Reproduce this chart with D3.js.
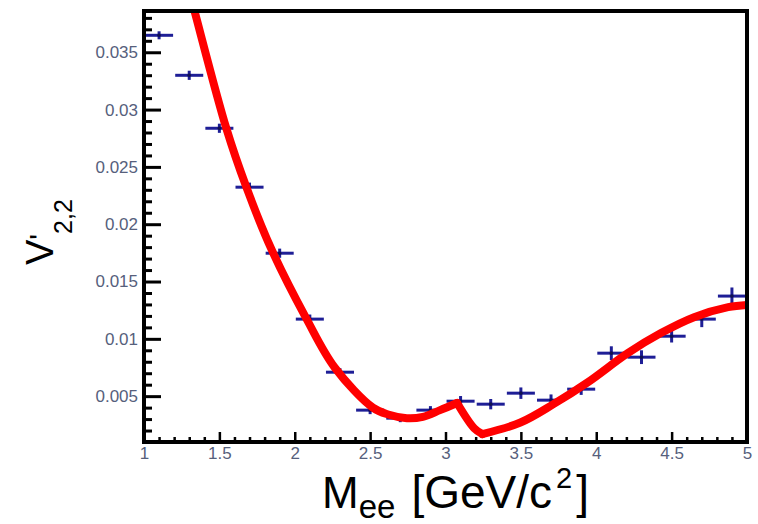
<!DOCTYPE html>
<html>
<head>
<meta charset="utf-8">
<script src="https://cdn.jsdelivr.net/npm/d3@7"></script>
<style>
  html, body { margin: 0; padding: 0; background: #ffffff; }
  svg { display: block; font-family: "Liberation Sans", Arial, Helvetica, sans-serif; }
</style>
</head>
<body>
<svg id="chart" width="758" height="524"></svg>
<script>
// ---- data ----
const binCenters = [1.1, 1.3, 1.5, 1.7, 1.9, 2.1, 2.3, 2.5, 2.7, 2.9, 3.1, 3.3, 3.5, 3.7, 3.9, 4.1, 4.3, 4.5, 4.7, 4.9];
const binHalfWidth = 0.1;
const v22Values = [0.03648, 0.03299, 0.02837, 0.02323, 0.01747, 0.01172, 0.00709, 0.00378, 0.00308, 0.00378,
                   0.00456, 0.00430, 0.00526, 0.00465, 0.00561, 0.00875, 0.00840, 0.01023, 0.01172, 0.01373];
const v22Errors = [0.00035, 0.0004, 0.0004, 0.0004, 0.0004, 0.0004, 0.00035, 0.00035, 0.00035, 0.00035,
                   0.00045, 0.00045, 0.0005, 0.0005, 0.0005, 0.0006, 0.0006, 0.00055, 0.0007, 0.00075];

// fit curve in three pieces: falling branch up to the J/psi kink,
// the steep drop after the kink, and the rising branch
const fitMassLow = [1.30, 1.333, 1.546, 1.679, 1.846, 2.079, 2.265, 2.518, 2.62, 2.744, 2.85, 2.964, 3.077];
const fitV22Low  = [0.0403, 0.0387, 0.02837, 0.02323, 0.0178, 0.01172, 0.0075, 0.0040, 0.0034, 0.00308, 0.0032, 0.00378, 0.00440];
const fitMassDrop = [3.077, 3.19, 3.244];
const fitV22Drop  = [0.00440, 0.0022, 0.00169];
const fitMassHigh = [3.244, 3.497, 3.716, 3.943, 4.209, 4.429, 4.649, 4.875, 5.0];
const fitV22High  = [0.00169, 0.0027, 0.0043, 0.0062, 0.00875, 0.0105, 0.01189, 0.01276, 0.01295];

const xTicks = [1, 1.5, 2, 2.5, 3, 3.5, 4, 4.5, 5];
const xTickLabels = ["1", "1.5", "2", "2.5", "3", "3.5", "4", "4.5", "5"];
const yTicks = [0.005, 0.01, 0.015, 0.02, 0.025, 0.03, 0.035];
const yTickLabels = ["0.005", "0.01", "0.015", "0.02", "0.025", "0.03", "0.035"];

// ---- layout ----
const L = 144, R = 747, T = 11, B = 442;
const svg = d3.select("#chart");
const x = d3.scaleLinear().domain([1, 5]).range([L, R]);
const y = d3.scaleLinear().domain([0.001, 0.0386]).range([B, T]);

const labelColor = "#56607c";
const pointColor = "#1e1e96";

svg.append("defs").append("clipPath").attr("id", "plotclip")
  .append("rect").attr("x", L).attr("y", T).attr("width", R - L).attr("height", B - T);

// minor ticks
const xMinor = d3.range(10, 51).map(d => d / 10).filter(d => !xTicks.some(t => Math.abs(t - d) < 1e-9));
const yMinor = d3.range(2, 39).map(d => d / 1000).filter(d => !yTicks.some(t => Math.abs(t - d) < 1e-9));

const gxMinor = svg.append("g").attr("transform", `translate(0,${B})`)
  .call(d3.axisBottom(x).tickValues(xMinor).tickSizeInner(-5).tickSizeOuter(0).tickFormat(""));
const gyMinor = svg.append("g").attr("transform", `translate(${L},0)`)
  .call(d3.axisLeft(y).tickValues(yMinor).tickSizeInner(-8).tickSizeOuter(0).tickFormat(""));

const gx = svg.append("g").attr("transform", `translate(0,${B})`)
  .call(d3.axisBottom(x).tickValues(xTicks).tickSizeInner(-10).tickSizeOuter(0).tickPadding(5)
    .tickFormat((d, i) => xTickLabels[i]));
const gy = svg.append("g").attr("transform", `translate(${L},0)`)
  .call(d3.axisLeft(y).tickValues(yTicks).tickSizeInner(-17).tickSizeOuter(0).tickPadding(6)
    .tickFormat((d, i) => yTickLabels[i]));

[gxMinor, gyMinor, gx, gy].forEach(g => g.select(".domain").remove());
[gxMinor, gx].forEach(g => g.selectAll(".tick line").attr("stroke", "#000").attr("stroke-width", 2.5));
[gyMinor, gy].forEach(g => g.selectAll(".tick line").attr("stroke", "#000").attr("stroke-width", 3));
[gx, gy].forEach(g => g.selectAll(".tick text")
  .attr("fill", labelColor).attr("font-size", 17)
  .attr("font-family", '"Liberation Sans", Arial, Helvetica, sans-serif'));

// data points with error bars
const pts = binCenters.map((m, i) => ({ m, v: v22Values[i], e: v22Errors[i] }));
const gp = svg.append("g").attr("clip-path", "url(#plotclip)");
gp.selectAll("line.h").data(pts).join("line").attr("class", "h")
  .attr("x1", d => x(d.m - binHalfWidth * 0.93)).attr("x2", d => x(d.m + binHalfWidth * 0.93))
  .attr("y1", d => y(d.v)).attr("y2", d => y(d.v))
  .attr("stroke", pointColor).attr("stroke-width", 3);
gp.selectAll("line.v").data(pts).join("line").attr("class", "v")
  .attr("x1", d => x(d.m)).attr("x2", d => x(d.m))
  .attr("y1", d => y(d.v - d.e)).attr("y2", d => y(d.v + d.e))
  .attr("stroke", pointColor).attr("stroke-width", 3);
gp.selectAll("circle").data(pts).join("circle")
  .attr("cx", d => x(d.m)).attr("cy", d => y(d.v)).attr("r", 1.8)
  .attr("fill", "#101050");

// fit curve
const toPts = (ms, vs) => ms.map((m, i) => ({ m, v: vs[i] }));
const smooth = d3.line().x(d => x(d.m)).y(d => y(d.v)).curve(d3.curveCatmullRom.alpha(0.5));
const gc = svg.append("g").attr("clip-path", "url(#plotclip)")
  .attr("fill", "none").attr("stroke", "#ff0000").attr("stroke-width", 8)
  .attr("stroke-linejoin", "round").attr("stroke-linecap", "round");
gc.append("path").datum(toPts(fitMassLow, fitV22Low)).attr("d", smooth);
gc.append("path").datum(toPts(fitMassDrop, fitV22Drop)).attr("d", smooth);
gc.append("path").datum(toPts(fitMassHigh, fitV22High)).attr("d", smooth);

// frame
svg.append("rect").attr("x", L).attr("y", T).attr("width", R - L).attr("height", B - T)
  .attr("fill", "none").attr("stroke", "#000").attr("stroke-width", 4);

// x title
const xt = svg.append("text").attr("x", 322).attr("y", 508).attr("fill", "#000").attr("font-size", 44);
xt.append("tspan").text("M");
xt.append("tspan").attr("font-size", 33).attr("dy", 10).text("ee");
xt.append("tspan").attr("font-size", 46).attr("dy", -10).attr("dx", 16).text("[GeV/c");
xt.append("tspan").attr("font-size", 29).attr("dy", -20).attr("dx", 4).text("2");
xt.append("tspan").attr("font-size", 46).attr("dy", 20).attr("dx", 4).text("]");

// y title
const yt = svg.append("text").attr("transform", "translate(53,265) rotate(-90)")
  .attr("fill", "#000").attr("font-size", 38);
yt.append("tspan").text("V");
yt.append("tspan").attr("font-size", 30).attr("dy", -3).text("'");
yt.append("tspan").attr("font-size", 25).attr("dy", 22).text("2,2");
</script>
</body>
</html>
